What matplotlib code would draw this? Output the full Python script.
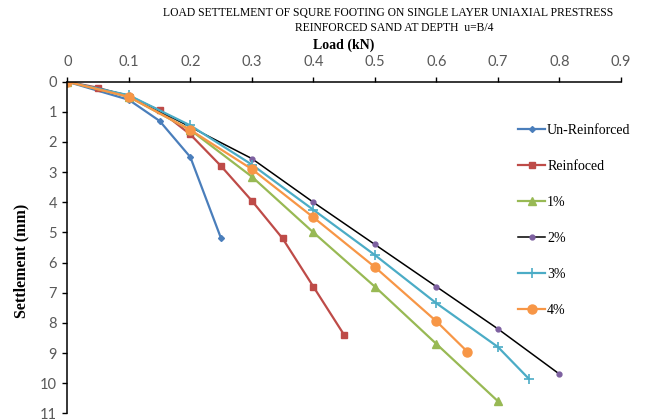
import matplotlib.pyplot as plt

# load (kN) and settlement (mm) for each series
load_unreinf = [0, 0.1, 0.15, 0.2, 0.25]
sett_unreinf = [0, 0.6, 1.3, 2.5, 5.2]

load_reinf = [0, 0.05, 0.1, 0.15, 0.2, 0.25, 0.3, 0.35, 0.4, 0.45]
sett_reinf = [0, 0.2, 0.5, 0.95, 1.75, 2.8, 3.95, 5.2, 6.8, 8.4]

load_1 = [0, 0.1, 0.2, 0.3, 0.4, 0.5, 0.6, 0.7]
sett_1 = [0, 0.5, 1.6, 3.15, 5.0, 6.8, 8.7, 10.6]

load_2 = [0, 0.1, 0.2, 0.3, 0.4, 0.5, 0.6, 0.7, 0.8]
sett_2 = [0, 0.45, 1.5, 2.55, 4.0, 5.4, 6.8, 8.2, 9.7]

load_3 = [0, 0.1, 0.2, 0.3, 0.4, 0.5, 0.6, 0.7, 0.75]
sett_3 = [0, 0.45, 1.45, 2.75, 4.25, 5.75, 7.35, 8.8, 9.85]

load_4 = [0, 0.1, 0.2, 0.3, 0.4, 0.5, 0.6, 0.65]
sett_4 = [0, 0.5, 1.6, 2.9, 4.5, 6.15, 7.95, 8.95]

x_ticks = [0, 0.1, 0.2, 0.3, 0.4, 0.5, 0.6, 0.7, 0.8, 0.9]
y_ticks = list(range(0, 12))

serif = 'Liberation Serif'
tick_font = 'Lato'

fig = plt.figure(figsize=(6.45, 4.19), dpi=100)
ax = fig.add_axes([0.1043, 0.0136, 0.8585, 0.7914])

ax.plot(load_unreinf, sett_unreinf, color='#4a7ebb', lw=1.6, marker='D', ms=3, label='Un-Reinforced')
ax.plot(load_reinf, sett_reinf, color='#be4b48', lw=1.6, marker='s', ms=5, label='Reinfoced')
ax.plot(load_1, sett_1, color='#98b954', lw=1.6, marker='^', ms=6, label='1%')
ax.plot(load_2, sett_2, color='black', lw=1.1, marker='o', ms=3.5,
        mfc='#7d60a0', mec='#7d60a0', label='2%')
ax.plot(load_3, sett_3, color='#4bacc6', lw=1.6, marker='+', ms=7, mew=1.2, label='3%')
ax.plot(load_4, sett_4, color='#f79646', lw=1.6, marker='o', ms=6.5, label='4%')

ax.set_xlim(0, 0.9)
ax.set_ylim(11, 0)
ax.set_xticks(x_ticks)
ax.set_xticklabels([('%g' % v) for v in x_ticks])
ax.set_yticks(y_ticks)

ax.xaxis.tick_top()
ax.spines['right'].set_visible(False)
ax.spines['bottom'].set_visible(False)
ax.spines['top'].set_linewidth(1.1)
ax.spines['left'].set_linewidth(1.1)
ax.tick_params(axis='x', direction='out', length=3.5, width=1, pad=6,
               labelsize=10.5, labelcolor='#595959')
ax.tick_params(axis='y', direction='out', length=3.5, width=1, pad=4,
               labelsize=10.5, labelcolor='#595959')
for lab in ax.get_xticklabels() + ax.get_yticklabels():
    lab.set_fontfamily(tick_font)

fig.text(0.602, 0.968, 'LOAD SETTELMENT OF SQURE FOOTING ON SINGLE LAYER UNIAXIAL PRESTRESS',
         ha='center', va='center', fontsize=8.4, family=serif)
fig.text(0.611, 0.932, 'REINFORCED SAND AT DEPTH  u=B/4',
         ha='center', va='center', fontsize=8.4, family=serif)
fig.text(0.533, 0.893, 'Load (kN)', ha='center', va='center',
         fontsize=10, fontweight='bold', family=serif)
fig.text(0.033, 0.377, 'Settlement (mm)', ha='center', va='center', rotation=90,
         fontsize=11.5, fontweight='bold', family=serif)

leg = ax.legend(loc='upper left', bbox_to_anchor=(518 / 645, 1 - 124 / 419),
                bbox_transform=fig.transFigure, frameon=False,
                prop={'family': serif, 'size': 10}, labelspacing=1.65,
                handlelength=1.95, handletextpad=0.15, borderpad=0, borderaxespad=0)

fig.savefig('out.png', dpi=100)
